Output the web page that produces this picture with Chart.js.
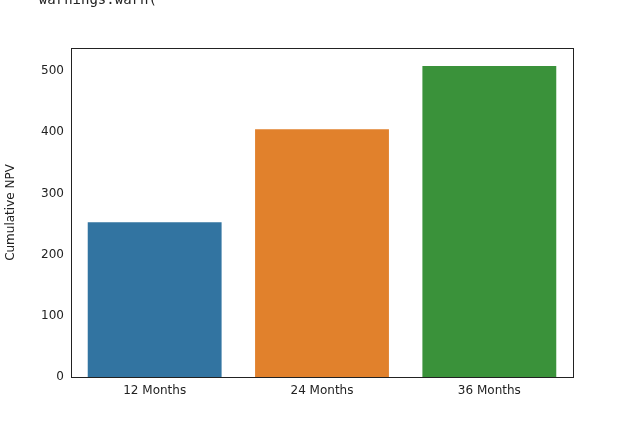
<!DOCTYPE html>
<html><head><meta charset="utf-8">
<script src="https://cdn.jsdelivr.net/npm/chart.js@4"></script>
<style>
html,body{margin:0;padding:0;background:#fff;width:643px;height:427px;overflow:hidden;position:relative}
#warn{position:absolute;left:22px;top:-9px;font:14px "DejaVu Sans Mono",monospace;color:#222;white-space:pre}
#wrap{position:absolute;left:0;top:0;width:643px;height:427px}
</style></head><body>
<div id="wrap"><canvas id="c" width="643" height="427"></canvas></div>
<div id="warn">  warnings.warn(</div>
<script>
const categories = ["12 Months", "24 Months", "36 Months"];
const npvValues = [253, 405, 508];
const barColors = ["#3274a1", "#e1812c", "#3a923a"];
const yTicks = [0, 100, 200, 300, 400, 500];

const frame = {id:'frame', afterDraw(ch){const a=ch.chartArea,c=ch.ctx;c.save();c.strokeStyle='#222';c.lineWidth=1;c.strokeRect(Math.round(a.left)+0.5,Math.round(a.top)+0.5,Math.round(a.right-a.left),Math.round(a.bottom-a.top));c.restore();}};
new Chart(document.getElementById('c'), {
  type:'bar',
  data:{labels:categories, datasets:[{data:npvValues, backgroundColor:barColors, barPercentage:0.8, categoryPercentage:1}]},
  options:{
    responsive:false, animation:false,
    layout:{padding:{top:48,right:70,left:0,bottom:0}},
    plugins:{legend:{display:false},tooltip:{enabled:false}},
    scales:{
      x:{grid:{display:false,drawTicks:true,tickLength:4,tickColor:'#222'},border:{display:false},
         ticks:{color:'#222',font:{family:'DejaVu Sans',size:12},padding:3},
         afterFit(s){s.height=50;}},
      y:{min:0,max:537.6,grid:{display:false,drawTicks:true,tickLength:4,tickColor:'#222'},border:{display:false},
         afterBuildTicks(s){s.ticks=yTicks.map(v=>({value:v}));},
         ticks:{color:'#222',font:{family:'DejaVu Sans',size:12},padding:3},
         title:{display:true,text:'Cumulative NPV',color:'#222',font:{family:'DejaVu Sans',size:12},padding:4},
         afterFit(s){s.width=71;}}
    }
  },
  plugins:[frame]
});
</script></body></html>
